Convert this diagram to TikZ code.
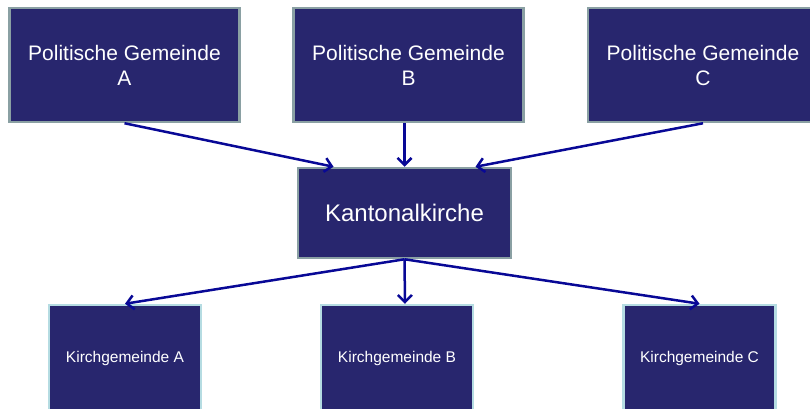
\documentclass[tikz,border=0pt]{standalone}
\usepackage{fontspec}
\setmainfont{Liberation Sans}
\usetikzlibrary{arrows,arrows.meta,calc,positioning}

\definecolor{kasten}{RGB}{40,38,110}
\definecolor{gemrand}{RGB}{138,160,163}
\definecolor{kgrand}{RGB}{181,220,226}
\definecolor{pfeil}{RGB}{8,8,150}

\tikzset{
  box/.style={rectangle, fill=kasten, text=white, line width=2.5pt, align=center, inner sep=0pt},
  gemeinde/.style={box, draw=gemrand, minimum width=230pt, minimum height=114pt, font=\fontsize{21}{25}\selectfont},
  kanton/.style={box, draw=gemrand, minimum width=213pt, minimum height=90pt, font=\fontsize{24}{28}\selectfont},
  kgemeinde/.style={box, draw=kgrand, minimum width=152pt, minimum height=106pt, font=\fontsize{15.5}{18}\selectfont},
  verbindung/.style={draw=pfeil, line width=2.5pt, -{Straight Barb[length=7pt,width=14pt]}}
}

\begin{document}
\begin{tikzpicture}[x=1pt, y=-1pt]
\clip (0,0) rectangle (810,408);
\node[gemeinde] (pg_a) at (124.5,65) {Politische Gemeinde\\A};
\node[gemeinde] (pg_b) at (408.5,65) {Politische Gemeinde\\B};
\node[gemeinde] (pg_c) at (703,65) {Politische Gemeinde\\C};
\node[kanton] (kk) at (404.5,213) {Kantonalkirche};
\node[kgemeinde] (kg_a) at (125,358) {Kirchgemeinde A};
\node[kgemeinde] (kg_b) at (397,358) {Kirchgemeinde B};
\node[kgemeinde] (kg_c) at (699.5,358) {Kirchgemeinde C};
\draw[verbindung] (pg_a.south) -- ([xshift=-71pt]kk.north);
\draw[verbindung] ([xshift=-4pt]pg_b.south) -- (kk.north);
\draw[verbindung] (pg_c.south) -- ([xshift=71pt]kk.north);
\draw[verbindung] (kk.south) -- (kg_a.north);
\draw[verbindung] (kk.south) -- ([xshift=8pt]kg_b.north);
\draw[verbindung] (kk.south) -- (kg_c.north);
\end{tikzpicture}
\end{document}
